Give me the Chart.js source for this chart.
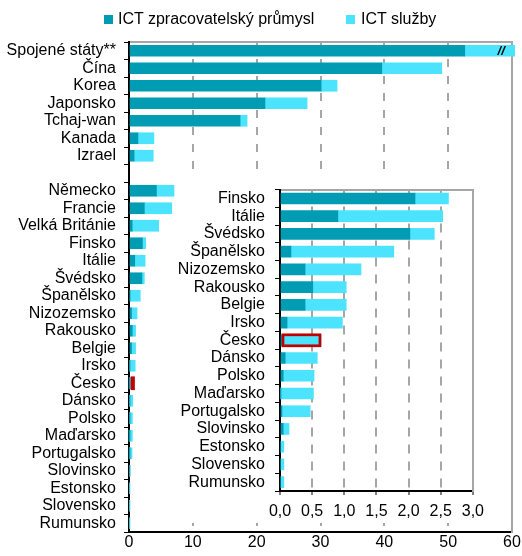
<!DOCTYPE html>
<html><head><meta charset="utf-8">
<script src="https://cdn.jsdelivr.net/npm/chart.js@4/dist/chart.umd.min.js"></script>
<style>
html,body{margin:0;padding:0;background:#fff;}
#wrap{position:relative;width:522px;height:556px;font-family:"Liberation Sans",Arial,sans-serif;overflow:hidden;}
#main{position:absolute;left:0;top:0;}
#insetBox{position:absolute;left:176px;top:177px;width:304px;height:346px;background:#fff;}
#inset{position:absolute;left:0;top:-7px;}
.lg{position:absolute;top:10px;font-size:16px;line-height:18px;color:#000;white-space:nowrap;}
.sw{position:absolute;width:9px;height:9px;top:15px;}
</style></head>
<body>
<div id="wrap">
  <canvas id="main" width="522" height="556"></canvas>
  <span class="sw" style="left:104px;background:#009CB4"></span><span class="lg" style="left:118px">ICT zpracovatelský průmysl</span>
  <span class="sw" style="left:346px;background:#4BE3FD"></span><span class="lg" style="left:361px">ICT služby</span>
  <div id="insetBox"><canvas id="inset" width="315" height="353"></canvas></div>
</div>
<script>
// ---- data ----
const categories = ['Spojené státy**','Čína','Korea','Japonsko','Tchaj-wan','Kanada','Izrael','',
  'Německo','Francie','Velká Británie','Finsko','Itálie','Švédsko','Španělsko','Nizozemsko','Rakousko',
  'Belgie','Irsko','Česko','Dánsko','Polsko','Maďarsko','Portugalsko','Slovinsko','Estonsko','Slovensko','Rumunsko'];
const manufacturing = [52.6,39.6,30.1,21.3,17.4,1.4,0.8,null,
  4.3,2.4,0.5,2.10,0.90,2.02,0.17,0.39,0.51,0.39,0.11,0.03,0.08,0.05,0.01,0.03,0.05,0.0,0.0,0.0];
const services = [10.0,9.4,2.5,6.6,1.1,2.5,3.0,null,
  2.75,4.3,4.15,0.52,1.63,0.38,1.60,0.87,0.52,0.64,0.86,0.61,0.50,0.48,0.51,0.44,0.09,0.06,0.06,0.06];
const seriesNames = ['ICT zpracovatelský průmysl','ICT služby'];
const insetFirst = 'Finsko';
const insetCategories = categories.slice(categories.indexOf(insetFirst));
const insetManufacturing = manufacturing.slice(categories.indexOf(insetFirst));
const insetServices = services.slice(categories.indexOf(insetFirst));
const mainTickLabels = ['0','10','20','30','40','50','60'];
const insetTickLabels = ['0,0','0,5','1,0','1,5','2,0','2,5','3,0'];
const highlight = 'Česko';
const brokenBar = 'Spojené státy**';

// ---- style ----
const DARK = '#009CB4', LIGHT = '#4BE3FD', GRID = '#A6A6A6', RED = '#C00000';
const FAM = '"Liberation Sans", Arial, sans-serif';
Chart.defaults.font.family = FAM;
Chart.defaults.color = '#000';

const marksPlugin = {
  id: 'marks',
  afterDatasetsDraw(chart) {
    const ctx = chart.ctx;
    const labels = chart.data.labels;
    const hi = labels.indexOf(highlight);
    if (hi >= 0) {
      const b0 = chart.getDatasetMeta(0).data[hi];
      const b1 = chart.getDatasetMeta(1).data[hi];
      const left = b0.base + 2, right = b1.x - 1.2;
      ctx.save();
      ctx.strokeStyle = RED; ctx.lineWidth = 2.7;
      ctx.strokeRect(left, b1.y - b1.height / 2, Math.max(right - left, 1.5), b1.height);
      ctx.restore();
    }
    const bi = labels.indexOf(brokenBar);
    if (bi >= 0) {
      const b1 = chart.getDatasetMeta(1).data[bi];
      ctx.save();
      ctx.fillStyle = '#000';
      ctx.font = 'italic bold 13px ' + FAM;
      ctx.textAlign = 'center'; ctx.textBaseline = 'middle';
      ctx.fillText('//', chart.scales.x.getPixelForValue(58.3), b1.y + 0.5);
      ctx.restore();
    }
  }
};

function makeChart(el, labels, dark, light, max, step, tickLabels, geo) {
  return new Chart(el, {
    type: 'bar',
    data: {
      labels: labels,
      datasets: [
        { label: seriesNames[0], data: dark, backgroundColor: DARK, borderWidth: 0, barThickness: 11 },
        { label: seriesNames[1], data: light, backgroundColor: LIGHT, borderWidth: 0, barThickness: 11,
          clip: { left: false, top: false, right: 3, bottom: false } }
      ]
    },
    plugins: [marksPlugin],
    options: {
      indexAxis: 'y', responsive: false, animation: false, events: [],
      layout: { padding: geo.padding },
      plugins: { legend: { display: false }, tooltip: { enabled: false } },
      scales: {
        x: {
          type: 'linear', position: 'bottom', stacked: true, min: 0, max: max,
          ticks: { stepSize: step, font: { size: 16 }, color: '#000', padding: geo.xPad, maxRotation: 0,
                   callback: (v, i) => tickLabels[i] },
          grid: { color: c => (c.tick && (c.tick.value === 0 || c.tick.value === max)) ? 'rgba(0,0,0,0)' : GRID,
                  lineWidth: 2, drawTicks: geo.xTicks, tickLength: 4, tickColor: '#000', tickWidth: 1 },
          border: { color: '#000', width: 2, dash: geo.dash },
          afterFit: s => { s.height = geo.xHeight; }
        },
        x2: {
          type: 'linear', position: 'top', min: 0, max: max, display: true,
          ticks: { display: false }, grid: { display: false, drawTicks: false },
          border: { color: GRID, width: 2 },
          afterFit: s => { s.height = 0; }
        },
        y: {
          type: 'category', stacked: true, offset: true,
          ticks: { font: { size: 16 }, color: '#000', padding: geo.yPad, autoSkip: false },
          grid: { offset: true, drawOnChartArea: false, drawTicks: true, tickLength: 5, tickColor: '#000', tickWidth: 1 },
          border: { color: '#000', width: 2 },
          afterFit: s => { s.width = geo.yWidth; }
        },
        y2: {
          type: 'category', position: 'right', display: true,
          ticks: { display: false }, grid: { display: false, drawTicks: false },
          border: { color: GRID, width: 2 },
          afterFit: s => { s.width = 0; }
        }
      }
    }
  });
}

makeChart(document.getElementById('main'), categories, manufacturing, services, 60, 10, mainTickLabels,
  { padding: { top: 42, right: 10, bottom: 0, left: 0 }, xPad: 1, xTicks: false, xHeight: 24, yPad: 8, yWidth: 129, dash: [8, 9] });
makeChart(document.getElementById('inset'), insetCategories, insetManufacturing, insetServices, 3, 0.5, insetTickLabels,
  { padding: { top: 13, right: 6, bottom: 0, left: 0 }, xPad: 7, xTicks: true, xHeight: 32, yPad: 10, yWidth: 104, dash: [9, 8] });
</script>
</body></html>
